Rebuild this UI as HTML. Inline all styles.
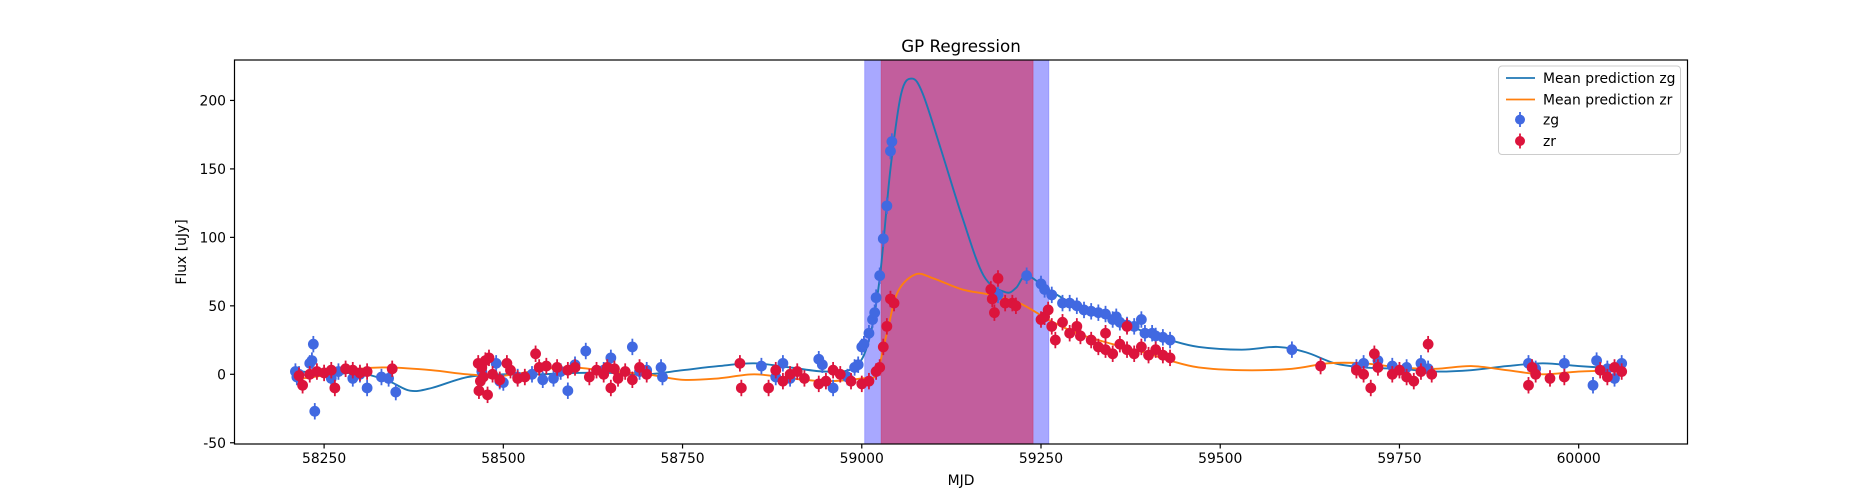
<!DOCTYPE html>
<html><head><meta charset="utf-8"><style>
html,body{margin:0;padding:0;background:#fff}
svg{display:block;font-family:"DejaVu Sans","Liberation Sans",sans-serif}
</style></head><body>
<svg id="chart" width="1875" height="500" viewBox="0 0 1875 500" xmlns="http://www.w3.org/2000/svg">
<rect width="1875" height="500" fill="#fff"/>
<g id="spans"></g>
<g id="lines"></g>
<g id="points"></g>
<rect x="234.5" y="60" width="1453" height="384" fill="none" stroke="#000" stroke-width="1.2"/>
<g id="xticks"></g>
<g id="yticks"></g>
<text x="961" y="52" text-anchor="middle" font-size="16.7">GP Regression</text>
<text x="961" y="485" text-anchor="middle" font-size="13.9">MJD</text>
<text transform="translate(186,252) rotate(-90)" text-anchor="middle" font-size="13.9">Flux [uJy]</text>
<g>
<rect x="1498.5" y="66" width="182" height="88.5" rx="3.5" fill="#fff" fill-opacity="0.8" stroke="#ccc"/>
<line x1="1506" y1="78" x2="1535" y2="78" stroke="#1f77b4" stroke-width="1.8"/>
<text x="1543" y="83" font-size="13.9">Mean prediction zg</text>
<line x1="1506" y1="99.5" x2="1535" y2="99.5" stroke="#ff7f0e" stroke-width="1.8"/>
<text x="1543" y="104.5" font-size="13.9">Mean prediction zr</text>
<line x1="1520" y1="112" x2="1520" y2="127" stroke="#4169e1" stroke-width="1.8"/>
<circle cx="1520" cy="119.6" r="5" fill="#4169e1"/>
<text x="1543" y="124.5" font-size="13.9">zg</text>
<line x1="1520" y1="133.5" x2="1520" y2="148.5" stroke="#dc143c" stroke-width="1.8"/>
<circle cx="1520" cy="141" r="5" fill="#dc143c"/>
<text x="1543" y="146" font-size="13.9">zr</text>
</g>
</svg>
<script>
const xTicks=[58250,58500,58750,59000,59250,59500,59750,60000];
const yTicks=[-50,0,50,100,150,200];
const spanZg=[59004,59261];
const spanZr=[59027,59239];
const zgX=[58210,58212,58215,58230,58233,58235,58237,58260,58270,58290,58300,58310,58330,58340,58350,
58470,58490,58495,58500,58520,58540,58555,58570,58580,58590,58600,58615,58640,58650,58680,58690,58700,58720,58722,
58860,58880,58890,58900,58940,58945,58960,58980,58990,58995,
59000,59003,59010,59015,59018,59020,59025,59030,59035,59040,59042,
59190,59230,59250,59255,59265,59280,59290,59300,59310,59320,59330,59340,59350,59355,59360,59370,59380,59390,59395,59405,59410,59420,59430,
59600,59690,59700,59720,59740,59760,59780,59790,59930,59940,59980,60020,60025,60040,60050,60060];
const zgY=[2,-2,0,8,10,22,-27,-3,2,-3,0,-10,-2,-3,-13,
2,8,-5,-6,-2,0,-4,-3,2,-12,7,17,3,12,20,2,3,5,-2,
6,-2,8,-3,11,7,-10,-2,5,7,
20,22,30,40,45,56,72,99,123,163,170,
58,72,66,62,58,52,52,50,47,46,45,44,40,42,38,36,35,40,30,30,28,27,25,
18,5,8,10,6,5,8,4,8,4,8,-8,10,4,-3,8];
const zrX=[58215,58220,58230,58240,58250,58260,58265,58280,58290,58300,58310,58345,
58465,58466,58468,58470,58472,58475,58478,58480,58485,58495,58505,58510,58520,58530,58545,58550,
58560,58575,58590,58600,58620,58630,58640,58645,58650,58655,58660,58670,58680,58690,58700,
58830,58832,58870,58880,58890,58900,58910,58920,58940,58950,58960,58970,58985,59000,59010,59020,59025,59030,59035,59040,59045,
59180,59182,59185,59190,59200,59210,59215,
59250,59255,59260,59265,59270,59280,59290,59300,59305,59320,59330,59340,59350,59360,59370,59380,59390,59400,59410,59420,59430,59340,59370,
59640,59690,59700,59710,59715,59720,59740,59750,59760,59770,59780,59790,59795,59930,59935,59940,59960,59980,60030,60040,60050,60060];
const zrY=[-1,-8,0,2,1,3,-10,4,3,1,2,4,
8,-12,-5,5,-2,10,-15,12,0,-4,8,3,-3,-2,15,5,
6,5,3,5,-2,3,0,5,-10,4,-3,2,-4,5,0,
8,-10,-10,3,-5,0,2,-3,-7,-5,3,0,-5,-7,-5,2,5,20,35,55,52,
62,55,45,70,52,52,50,
40,42,47,35,25,38,30,35,28,25,20,18,15,22,18,15,20,14,18,14,12,30,35,
6,3,0,-10,15,5,0,3,-2,-5,2,22,0,-8,5,0,-3,-2,3,-2,5,2];
const gpZgX=[58220,58260,58300,58340,58370,58400,58450,58500,58550,58600,58650,58700,58750,58800,58850,58900,58950,58990,59010,59025,59040,59055,59070,59085,59110,59140,59170,59200,59215,59230,59260,59300,59350,59400,59430,59470,59530,59580,59620,59660,59700,59750,59800,59850,59900,59950,60000,60060];
const gpZgY=[2,0,1,-5,-12,-10,-2,0,0,1,1,0,3,6,8,5,2,5,25,70,150,205,216,205,165,115,72,60,63,72,62,50,40,30,25,20,18,20,16,8,5,4,2,3,6,8,6,4];
const gpZrX=[58220,58260,58300,58340,58400,58450,58500,58560,58600,58650,58700,58750,58800,58850,58900,58950,59000,59020,59035,59050,59075,59100,59140,59180,59220,59260,59300,59350,59400,59430,59470,59530,59600,59650,59700,59750,59800,59850,59900,59950,60000,60060];
const gpZrY=[-3,0,4,5,3,0,-1,4,5,2,0,-4,-3,0,-3,-5,-3,0,30,60,73,70,62,58,52,40,30,22,15,10,5,3,4,8,8,5,4,6,3,0,2,3];
const errZg=6, errZr=6;

const NS='http://www.w3.org/2000/svg';
const X=v=>324.1+(v-58250)*0.7169;
const Y=v=>374.3-v*1.3693;
function mk(tag,attrs,parent){const e=document.createElementNS(NS,tag);for(const k in attrs)e.setAttribute(k,attrs[k]);parent.appendChild(e);return e;}
const spans=document.getElementById('spans');
let s1=mk('rect',{x:X(spanZg[0]),y:60,width:X(spanZg[1])-X(spanZg[0]),height:384,fill:'#0000ff','fill-opacity':0.34,stroke:'#0000ff','stroke-opacity':0.2},spans);


let s2=mk('rect',{x:X(spanZr[0]),y:60,width:X(spanZr[1])-X(spanZr[0]),height:384,fill:'#dc143c','fill-opacity':0.5,stroke:'#dc143c','stroke-opacity':0.3},spans);


function smooth(xs,ys){const p=xs.map((x,i)=>[X(x),Y(ys[i])]);let d='M'+p[0][0]+','+p[0][1];
for(let i=0;i<p.length-1;i++){const p0=p[Math.max(0,i-1)],p1=p[i],p2=p[i+1],p3=p[Math.min(p.length-1,i+2)];
const c1=[p1[0]+(p2[0]-p0[0])/6,p1[1]+(p2[1]-p0[1])/6],c2=[p2[0]-(p3[0]-p1[0])/6,p2[1]-(p3[1]-p1[1])/6];
d+=' C'+c1[0]+','+c1[1]+' '+c2[0]+','+c2[1]+' '+p2[0]+','+p2[1];}return d;}
const lines=document.getElementById('lines');
let l1=mk('path',{d:smooth(gpZgX,gpZgY),fill:'none',stroke:'#1f77b4','stroke-width':1.9},lines);


let l2=mk('path',{d:smooth(gpZrX,gpZrY),fill:'none',stroke:'#ff7f0e','stroke-width':1.9},lines);


const pts=document.getElementById('points');
function drawPts(xs,ys,err,col,name){xs.forEach((x,i)=>{const g=mk('g',{},pts);


mk('line',{x1:X(x),x2:X(x),y1:Y(ys[i]+err),y2:Y(ys[i]-err),stroke:col,'stroke-width':1.8},g);
mk('circle',{cx:X(x),cy:Y(ys[i]),r:5.4,fill:col},g);});}
drawPts(zgX,zgY,errZg,'#4169e1','zg');
drawPts(zrX,zrY,errZr,'#dc143c','zr');
const xt=document.getElementById('xticks');
xTicks.forEach(t=>{mk('line',{x1:X(t),x2:X(t),y1:444,y2:448.5,stroke:'#000','stroke-width':1.2},xt);
const tx=mk('text',{x:X(t),y:463,'text-anchor':'middle','font-size':13.9},xt);tx.textContent=t;

});
const yt=document.getElementById('yticks');
yTicks.forEach(t=>{mk('line',{x1:230,x2:234.5,y1:Y(t),y2:Y(t),stroke:'#000','stroke-width':1.2},yt);
const tx=mk('text',{x:226,y:Y(t)+5,'text-anchor':'end','font-size':13.9},yt);tx.textContent=t;

});
</script>
</body></html>
